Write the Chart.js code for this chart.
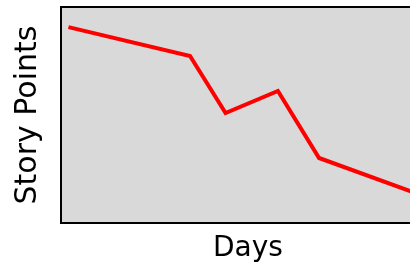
<!DOCTYPE html>
<html>
<head>
<meta charset="utf-8">
<script src="https://cdn.jsdelivr.net/npm/chart.js@4"></script>
<style>
  html, body { margin: 0; padding: 0; background: #ffffff; }
  #clip { width: 410px; height: 263px; overflow: hidden; position: relative; }
  #wrap { width: 440px; height: 263px; position: absolute; left: 0; top: 0; }
</style>
</head>
<body>
<div id="clip"><div id="wrap"><canvas id="c"></canvas></div></div>
<script>
const days = [0.2, 3.45, 4.4, 5.8, 6.9, 10];
const storyPoints = [90.7, 77.3, 50.9, 61.1, 30.1, 10.6];
const xTitle = 'Days';
const yTitle = 'Story Points';

const points = days.map((d, i) => ({ x: d, y: storyPoints[i] }));

const bgPlugin = {
  id: 'bg',
  beforeDraw(chart) {
    const { ctx, chartArea: a } = chart;
    ctx.save();
    ctx.fillStyle = '#d9d9d9';
    ctx.fillRect(a.left, a.top, a.right - a.left, a.bottom - a.top);
    ctx.restore();
  }
};

const FONT = "'DejaVu Sans', sans-serif";

new Chart(document.getElementById('c'), {
  type: 'line',
  data: {
    datasets: [{
      data: points,
      borderColor: '#ff0000',
      borderWidth: 4,
      pointRadius: 0,
      tension: 0,
      fill: false
    }]
  },
  options: {
    responsive: true,
    maintainAspectRatio: false,
    animation: false,
    layout: { padding: { top: 0, right: 5, left: 0, bottom: 0 } },
    plugins: { legend: { display: false }, tooltip: { enabled: false } },
    scales: {
      x: {
        type: 'linear',
        min: 0,
        max: 10,
        position: 'bottom',
        grid: { display: false },
        border: { display: true, color: '#000', width: 2 },
        ticks: { display: false },
        afterFit(s) { s.height = 40; },
        title: {
          display: true,
          text: xTitle,
          color: '#000',
          font: { family: FONT, size: 28, lineHeight: 1 },
          padding: { top: 3, bottom: 0 }
        }
      },
      x2: {
        type: 'linear',
        min: 0,
        max: 10,
        position: 'top',
        grid: { display: false },
        border: { display: true, color: '#000', width: 2 },
        ticks: { display: false },
        afterFit(s) { s.height = 7; }
      },
      y: {
        min: 0,
        max: 100,
        grid: { display: false },
        border: { display: true, color: '#000', width: 2 },
        ticks: { display: false },
        afterFit(s) { s.width = 61; },
        title: {
          display: true,
          text: yTitle,
          color: '#000',
          font: { family: FONT, size: 30, lineHeight: 1.2 },
          padding: { top: 10, bottom: 7 }
        }
      }
    }
  },
  plugins: [bgPlugin]
});
</script>
</body>
</html>
